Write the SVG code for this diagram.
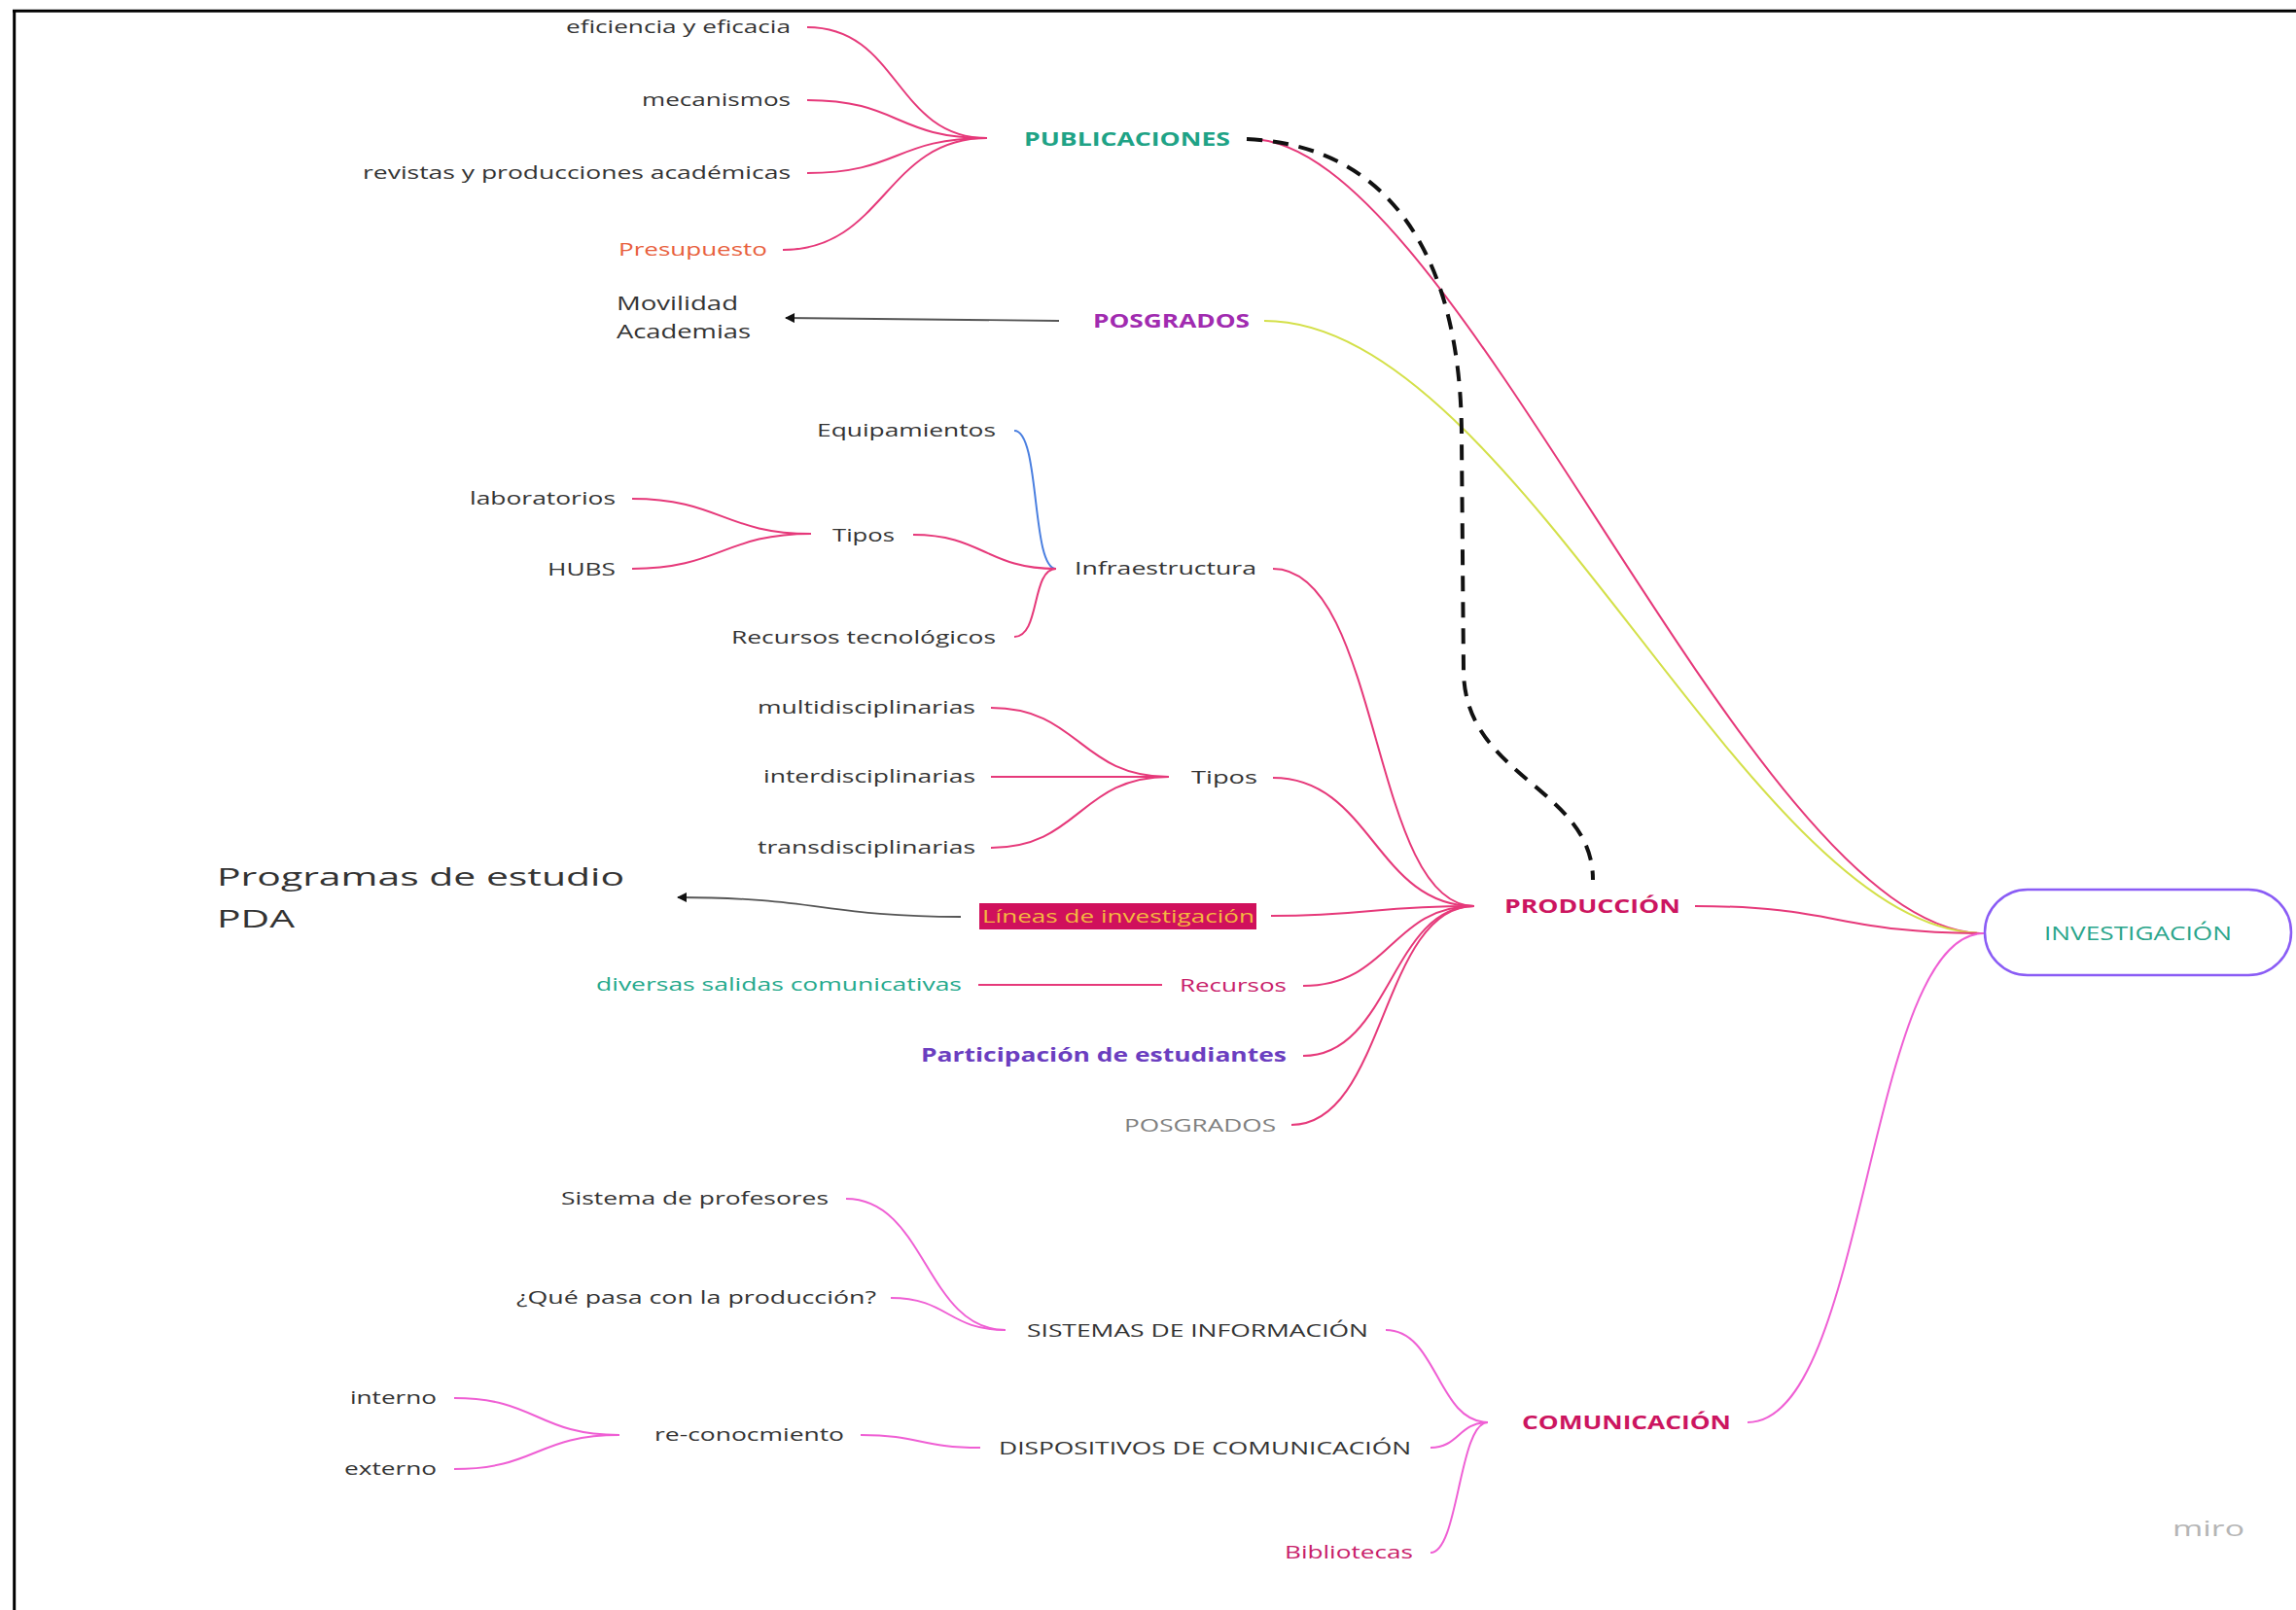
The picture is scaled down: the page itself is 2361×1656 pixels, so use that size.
<svg xmlns="http://www.w3.org/2000/svg" width="2361" height="1656" viewBox="0 0 2361 1656">
<defs>
<style>
text{font-family:"Open Sans","Noto Sans","Liberation Sans",sans-serif;font-size:19px;fill:#333333}
.b{font-weight:bold}
.teal{fill:#1fa386}
.crim{fill:#cc1560}
.purp{fill:#a12bb0}
.c{fill:none;stroke:#e6397a;stroke-width:2}
.m{fill:none;stroke:#ef5fd4;stroke-width:2}
.a{fill:none;stroke:#555555;stroke-width:1.8}
</style>
<marker id="ah" viewBox="0 0 10 10" refX="9" refY="5" markerWidth="12" markerHeight="10" markerUnits="userSpaceOnUse" orient="auto">
<path d="M0,0 L10,5 L0,10 z" fill="#111111"/>
</marker>
</defs>
<rect x="0" y="0" width="2361" height="1656" fill="#ffffff"/>
<g id="frame" stroke="#000000" stroke-width="3">
<line x1="13" y1="11.3" x2="2361" y2="11.3"/>
<line x1="14.7" y1="10" x2="14.7" y2="1656"/>
</g>
<g id="connectors">
<path class="c" d="M830,28 C925,28 920,142 1015,142"/>
<path class="c" d="M830,103 C925,103 920,142 1015,142"/>
<path class="c" d="M830,178 C925,178 920,142 1015,142"/>
<path class="c" d="M805,257 C910,257 910,142 1015,142"/>
<path class="c" d="M1285,143 C1500,143 1800,960 2040,960"/>
<path fill="none" stroke="#d4e04a" stroke-width="2" d="M1300,330 C1560,330 1800,960 2040,960"/>
<path class="a" d="M1089,330 L808,327" marker-end="url(#ah)"/>
<path fill="none" stroke="#111111" stroke-width="4" stroke-dasharray="16 11" d="M1282,143 C1440,150 1503,280 1503,450 L1505,690 C1506,800 1638,810 1638,905"/>
<path fill="none" stroke="#4a7fe0" stroke-width="2" d="M1043,443 C1070,443 1060,585 1086,585"/>
<path class="c" d="M939,550 C1010,550 1015,585 1086,585"/>
<path class="c" d="M1043,655 C1070,655 1060,585 1086,585"/>
<path class="c" d="M650,513 C740,513 745,549 834,549"/>
<path class="c" d="M650,585 C740,585 745,549 834,549"/>
<path class="c" d="M1309,585 C1420,585 1410,932 1516,932"/>
<path class="c" d="M1019,728 C1110,728 1110,799 1202,799"/>
<path class="c" d="M1019,799 L1202,799"/>
<path class="c" d="M1019,872 C1110,872 1110,799 1202,799"/>
<path class="c" d="M1309,800 C1410,800 1415,932 1516,932"/>
<path class="c" d="M1307,942 C1410,942 1410,932 1516,932"/>
<path class="c" d="M1340,1014 C1430,1014 1430,932 1516,932"/>
<path class="c" d="M1340,1086 C1430,1086 1430,932 1516,932"/>
<path class="c" d="M1328,1157 C1425,1157 1420,932 1516,932"/>
<path class="c" d="M1006,1013 L1195,1013"/>
<path class="c" d="M1743,932 C1890,932 1890,960 2040,960"/>
<path class="a" d="M988,943 C850,943 840,923 697,923" marker-end="url(#ah)"/>
<path class="m" d="M1797,1463 C1920,1463 1920,960 2040,960"/>
<path class="m" d="M1425,1368 C1478,1368 1478,1463 1530,1463"/>
<path class="m" d="M1471,1489 C1500,1489 1500,1463 1530,1463"/>
<path class="m" d="M1471,1597 C1500,1597 1500,1463 1530,1463"/>
<path class="m" d="M870,1233 C952,1233 952,1368 1034,1368"/>
<path class="m" d="M916,1335 C975,1335 975,1368 1034,1368"/>
<path class="m" d="M885,1476 C946,1476 946,1489 1008,1489"/>
<path class="m" d="M467,1438 C552,1438 552,1476 637,1476"/>
<path class="m" d="M467,1511 C552,1511 552,1476 637,1476"/>
</g>
<g id="n-eficiencia"><text x="582" y="34" textLength="231" lengthAdjust="spacingAndGlyphs">eficiencia y eficacia</text></g>
<g id="n-mecanismos"><text x="660" y="109" textLength="153" lengthAdjust="spacingAndGlyphs">mecanismos</text></g>
<g id="n-revistas"><text x="373" y="184" textLength="440" lengthAdjust="spacingAndGlyphs">revistas y producciones académicas</text></g>
<g id="n-presupuesto"><text x="636" y="263" textLength="153" lengthAdjust="spacingAndGlyphs" style="fill:#e8603c">Presupuesto</text></g>
<g id="n-publicaciones"><text class="b teal" x="1053" y="150" textLength="212" lengthAdjust="spacingAndGlyphs">PUBLICACIONES</text></g>
<g id="n-movilidad"><text x="634" y="319" textLength="125" lengthAdjust="spacingAndGlyphs" style="font-size:20px">Movilidad</text><text x="634" y="348" textLength="138" lengthAdjust="spacingAndGlyphs" style="font-size:20px">Academias</text></g>
<g id="n-posgrados1"><text class="b purp" x="1124" y="337" textLength="161" lengthAdjust="spacingAndGlyphs">POSGRADOS</text></g>
<g id="n-equipamientos"><text x="840" y="449" textLength="184" lengthAdjust="spacingAndGlyphs">Equipamientos</text></g>
<g id="n-laboratorios"><text x="483" y="519" textLength="150" lengthAdjust="spacingAndGlyphs">laboratorios</text></g>
<g id="n-tipos1"><text x="856" y="557" textLength="64" lengthAdjust="spacingAndGlyphs">Tipos</text></g>
<g id="n-hubs"><text x="563" y="592" textLength="70" lengthAdjust="spacingAndGlyphs">HUBS</text></g>
<g id="n-infraestructura"><text x="1105" y="591" textLength="187" lengthAdjust="spacingAndGlyphs">Infraestructura</text></g>
<g id="n-recursostec"><text x="752" y="662" textLength="272" lengthAdjust="spacingAndGlyphs">Recursos tecnológicos</text></g>
<g id="n-multi"><text x="779" y="734" textLength="224" lengthAdjust="spacingAndGlyphs">multidisciplinarias</text></g>
<g id="n-inter"><text x="785" y="805" textLength="218" lengthAdjust="spacingAndGlyphs">interdisciplinarias</text></g>
<g id="n-trans"><text x="779" y="878" textLength="224" lengthAdjust="spacingAndGlyphs">transdisciplinarias</text></g>
<g id="n-tipos2"><text x="1225" y="806" textLength="68" lengthAdjust="spacingAndGlyphs">Tipos</text></g>
<g id="n-programas"><text x="223" y="911" textLength="419" lengthAdjust="spacingAndGlyphs" style="font-size:26px">Programas de estudio</text><text x="223" y="954" textLength="80" lengthAdjust="spacingAndGlyphs" style="font-size:26px">PDA</text></g>
<g id="n-lineas"><rect x="1007" y="929" width="285" height="27" fill="#d0105c"/><text x="1010" y="949" textLength="280" lengthAdjust="spacingAndGlyphs" style="fill:#f4b740">Líneas de investigación</text></g>
<g id="n-produccion"><text class="b crim" x="1547" y="939" textLength="181" lengthAdjust="spacingAndGlyphs">PRODUCCIÓN</text></g>
<g id="n-diversas"><text x="613" y="1019" textLength="376" lengthAdjust="spacingAndGlyphs" style="fill:#25a98c">diversas salidas comunicativas</text></g>
<g id="n-recursos"><text x="1213" y="1020" textLength="110" lengthAdjust="spacingAndGlyphs" style="fill:#c8206a">Recursos</text></g>
<g id="n-participacion"><text class="b" x="947" y="1092" textLength="376" lengthAdjust="spacingAndGlyphs" style="fill:#6b3ec0">Participación de estudiantes</text></g>
<g id="n-posgrados2"><text x="1156" y="1164" textLength="156" lengthAdjust="spacingAndGlyphs" style="fill:#808080">POSGRADOS</text></g>
<g id="n-investigacion"><rect x="2041" y="915" width="315" height="88" rx="44" ry="44" fill="#ffffff" stroke="#8a5cf5" stroke-width="2.5"/><text x="2102" y="967" textLength="193" lengthAdjust="spacingAndGlyphs" style="fill:#2aa58b;font-size:20px">INVESTIGACIÓN</text></g>
<g id="n-sistprof"><text x="577" y="1239" textLength="275" lengthAdjust="spacingAndGlyphs">Sistema de profesores</text></g>
<g id="n-quepasa"><text x="531" y="1341" textLength="370" lengthAdjust="spacingAndGlyphs">¿Qué pasa con la producción?</text></g>
<g id="n-sistemas"><text x="1056" y="1375" textLength="351" lengthAdjust="spacingAndGlyphs">SISTEMAS DE INFORMACIÓN</text></g>
<g id="n-interno"><text x="360" y="1444" textLength="89" lengthAdjust="spacingAndGlyphs">interno</text></g>
<g id="n-reconoc"><text x="673" y="1482" textLength="195" lengthAdjust="spacingAndGlyphs">re-conocmiento</text></g>
<g id="n-externo"><text x="354" y="1517" textLength="95" lengthAdjust="spacingAndGlyphs">externo</text></g>
<g id="n-dispositivos"><text x="1027" y="1496" textLength="424" lengthAdjust="spacingAndGlyphs">DISPOSITIVOS DE COMUNICACIÓN</text></g>
<g id="n-comunicacion"><text class="b crim" x="1565" y="1470" textLength="215" lengthAdjust="spacingAndGlyphs">COMUNICACIÓN</text></g>
<g id="n-bibliotecas"><text x="1321" y="1603" textLength="132" lengthAdjust="spacingAndGlyphs" style="fill:#c8206a">Bibliotecas</text></g>
<g id="watermark"><text x="2234" y="1580" textLength="74" lengthAdjust="spacingAndGlyphs" style="fill:#b5b5b5;font-size:22px">miro</text></g>
</svg>
